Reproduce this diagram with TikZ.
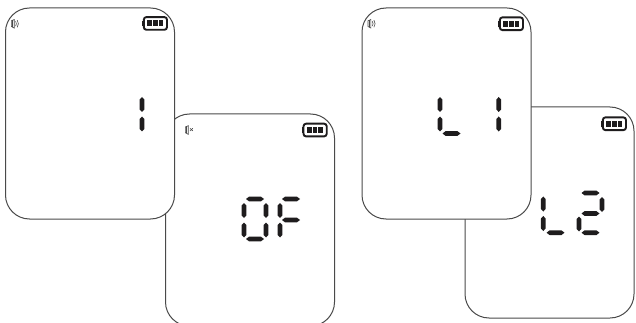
\documentclass[tikz,border=0pt]{standalone}
\definecolor{lcdline}{HTML}{4A4A4A}
\definecolor{lcdseg}{HTML}{1E1C1D}

\begin{document}
\begin{tikzpicture}[x=1pt, y=-1pt,
  screen/.style={draw=lcdline, line width=1pt, rounded corners=24pt, fill=white,
                 inner sep=0pt, minimum width=169pt, minimum height=211pt},
  vseg/.pic={\fill[lcdseg] (0,0) -- (2.4,2.6) -- (2.4,12.4) -- (0,15) -- (-2.4,12.4) -- (-2.4,2.6) -- cycle;},
  hseg/.pic={\fill[lcdseg] (0,0) -- (3,-2.3) -- (15,-2.3) -- (18,0) -- (15,2.3) -- (3,2.3) -- cycle;},
  battery/.pic={
    \draw[lcdseg, line width=1.9pt, rounded corners=2.6pt] (1.8,0.9) rectangle (25,13.6);
    \fill[lcdseg] (0,4.4) rectangle (1.8,10.1);
    \foreach \x in {5.3,10.9,16.5} \fill[lcdseg] (\x,4.3) rectangle ++(4.8,5.9);
  },
  speaker/.pic={
    \draw[lcdline, line width=0.6pt] (0.3,1.5) -- (3.2,0.2) -- (3.2,8.8) -- (0.3,7.2) -- cycle;
    \draw[lcdline, line width=0.6pt] (1.6,1) -- (1.6,7.8);
  },
  waves/.pic={
    \draw[lcdline, line width=0.6pt] (4.6,2) to[bend left=35] (4.6,6.8);
    \draw[lcdline, line width=0.6pt] (6.2,0.8) to[bend left=35] (6.2,8);
  },
  muted/.pic={
    \draw[lcdline, line width=0.6pt] (5,2.8) -- (7.8,5.4) (7.8,2.8) -- (5,5.4);
  },
]
\clip (0,0) rectangle (636,323);
% display off, behind the first one
\node[screen, minimum height=212pt] (scrOff) at (250,220) {};
\node[screen] (scrOne) at (90,113.5) {};
\pic at (142,16.2) {battery};
\pic at (301.7,122.8) {battery};
\pic at (11,19.3) {speaker};
\pic at (11,19.3) {waves};
\pic at (185,125.5) {speaker};
\pic at (185,125.5) {muted};
% level 2, behind level 1
\node[screen] (scrLtwo) at (549.5,212.5) {};
\node[screen] (scrLone) at (446.5,113.5) {};
\pic at (498,16.5) {battery};
\pic at (601,116.5) {battery};
\pic at (367.7,19.3) {speaker};
\pic at (367.7,19.3) {waves};
% digits
\foreach \x/\y in {142/97, 142/116.5, 440/97, 440/116.5, 498.7/97, 498.7/116.5,
                   244/203, 244/222.5, 266/203, 266/222.5, 280/203, 280/222.5,
                   543.3/196.5, 543.3/216, 602/197, 579/216.5}
  \pic at (\x,\y) {vseg};
\foreach \x/\y in {442.5/133.5, 246/199, 246/239, 282/199, 282/220,
                   546.5/232.7, 581.5/193, 581.5/213.5, 581.5/232.7}
  \pic at (\x,\y) {hseg};
\end{tikzpicture}
\end{document}
